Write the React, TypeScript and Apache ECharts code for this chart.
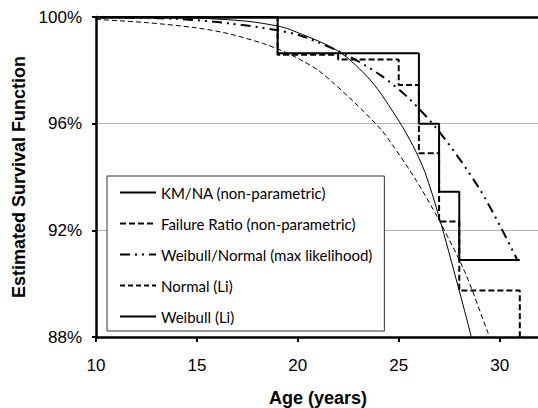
import React, { useEffect, useRef } from "react";
import * as echarts from "echarts";

const seriesNames = [
  "KM/NA (non-parametric)",
  "Failure Ratio (non-parametric)",
  "Weibull/Normal (max likelihood)",
  "Normal (Li)",
  "Weibull (Li)",
];

const kmAges = [10, 19, 26, 27, 28, 31];
const kmValues = [100, 98.64, 96.0, 93.45, 90.89, 90.89];

const frAges = [10, 19, 22, 25, 26, 27, 28, 31];
const frValues = [100, 98.58, 98.41, 97.45, 94.89, 92.33, 89.74, 87.0];

const mlAges = [10, 14, 16.6, 19, 20.3, 22.47, 24.13, 25.5, 27.11, 28.95, 30.1, 30.9];
const mlValues = [100, 99.93, 99.76, 99.5, 99.26, 98.55, 97.8, 96.95, 95.6, 93.62, 92.05, 90.85];

const normAges = [10, 12.5, 15, 16.6, 18.3, 19.2, 20, 21.1, 22.8, 24.1, 24.6, 25.8, 26.95, 28.27, 29.4, 29.8];
const normValues = [99.91, 99.79, 99.59, 99.37, 99.0, 98.74, 98.45, 97.95, 96.8, 95.8, 95.3, 93.95, 92.45, 90.45, 88.2, 87.4];

const weibAges = [10, 12.5, 15, 17.5, 19, 19.65, 22, 23.63, 24.96, 25.7, 26.29, 27.0, 27.94, 28.57, 28.8];
const weibValues = [100, 99.99, 99.96, 99.84, 99.66, 99.52, 98.72, 97.6, 96.16, 95.18, 94.2, 92.5, 89.9, 88.08, 87.3];

const xTicks = [10, 15, 20, 25, 30];
const yTicks = [88, 92, 96, 100];

const zip = (a: number[], b: number[]) => a.map((x, i) => [x, b[i]]);

export default function App() {
  const ref = useRef<HTMLDivElement>(null);
  useEffect(() => {
    if (!ref.current) return;
    const chart = echarts.init(ref.current, null, { renderer: "svg" });
    const tickFont = "Arial, 'Liberation Sans', sans-serif";
    chart.setOption({
      animation: false,
      backgroundColor: "#fff",
      grid: { left: 96, top: 17, right: -2, bottom: 71, containLabel: false, outerBoundsMode: "none" },
      legend: {
        data: seriesNames,
        orient: "vertical",
        left: 107,
        top: 176,
        padding: [9, 12, 7, 12],
        itemWidth: 36,
        itemHeight: 14,
        itemGap: 16,
        backgroundColor: "#fff",
        borderColor: "#333",
        borderWidth: 1,
        borderRadius: 0,
        itemStyle: { opacity: 0 },
        textStyle: { fontFamily: "Lato, sans-serif", fontSize: 15, color: "#000", lineHeight: 14 },
        z: 10,
      },
      xAxis: [
        {
          type: "value",
          min: 10,
          max: 32,
          interval: 5,
          name: "Age (years)",
          nameLocation: "middle",
          nameGap: 52,
          nameTextStyle: { fontFamily: tickFont, fontSize: 18, fontWeight: "bold", color: "#000" },
          axisLine: { show: true, onZero: false, lineStyle: { color: "#000", width: 2.5 } },
          axisTick: { show: true, length: 5, lineStyle: { color: "#000", width: 2 } },
          axisLabel: {
            fontFamily: tickFont,
            fontSize: 17,
            color: "#000",
            margin: 20,
            formatter: (v: number) => (xTicks.includes(v) ? String(v) : ""),
          },
          splitLine: { show: false },
        },
        {
          type: "value",
          min: 10,
          max: 32,
          position: "top",
          axisLine: { show: true, onZero: false, lineStyle: { color: "#000", width: 2.5 } },
          axisTick: { show: false },
          axisLabel: { show: false },
          splitLine: { show: false },
        },
      ],
      yAxis: {
        type: "value",
        min: 88,
        max: 100,
        interval: 4,
        name: "Estimated Survival Function",
        nameLocation: "middle",
        nameGap: 67,
        nameTextStyle: { fontFamily: tickFont, fontSize: 18, fontWeight: "bold", color: "#000" },
        axisLine: { show: true, onZero: false, lineStyle: { color: "#000", width: 2.5 } },
        axisTick: { show: true, length: 4, lineStyle: { color: "#000", width: 2 } },
        axisLabel: {
          fontFamily: tickFont,
          fontSize: 17,
          color: "#000",
          margin: 14,
          formatter: (v: number) => (yTicks.includes(v) ? v + "%" : ""),
        },
        splitLine: { show: true, lineStyle: { color: "#b3b3b3", width: 1 } },
      },
      series: [
        {
          name: seriesNames[0],
          type: "line",
          step: "end",
          data: zip(kmAges, kmValues),
          symbol: "none",
          itemStyle: { color: "#000" },
          lineStyle: { color: "#000", width: 2, type: "solid" },
          z: 5,
        },
        {
          name: seriesNames[1],
          type: "line",
          step: "end",
          data: zip(frAges, frValues),
          symbol: "none",
          itemStyle: { color: "#000" },
          lineStyle: { color: "#000", width: 2, type: [6, 3] },
          z: 4,
        },
        {
          name: seriesNames[2],
          type: "line",
          smooth: 0.3,
          data: zip(mlAges, mlValues),
          symbol: "none",
          itemStyle: { color: "#000" },
          lineStyle: { color: "#000", width: 2, type: [10, 5, 2, 5, 2, 5] },
          z: 3,
        },
        {
          name: seriesNames[3],
          type: "line",
          smooth: 0.3,
          data: zip(normAges, normValues),
          symbol: "none",
          itemStyle: { color: "#000" },
          lineStyle: { color: "#000", width: 1, type: [5, 3] },
          z: 2,
        },
        {
          name: seriesNames[4],
          type: "line",
          smooth: 0.3,
          data: zip(weibAges, weibValues),
          symbol: "none",
          itemStyle: { color: "#000" },
          lineStyle: { color: "#000", width: 1, type: "solid" },
          z: 2,
        },
      ],
    });
    return () => chart.dispose();
  }, []);
  return <div ref={ref} style={{ width: 538, height: 408, position: "absolute", left: 0, top: 0 }} />;
}
